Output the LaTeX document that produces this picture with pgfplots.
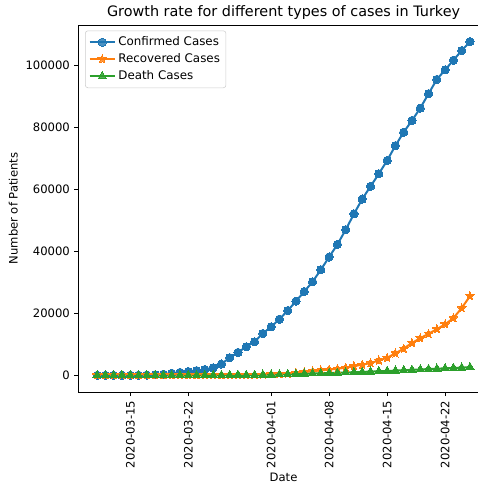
\documentclass[border=0pt]{standalone}
\usepackage{fontspec}
\setmainfont{DejaVu Sans}
\usepackage{pgfplots}
\usepackage{pgfplotstable}
\pgfplotsset{compat=1.18}
\definecolor{c0}{HTML}{1F77B4}
\definecolor{c1}{HTML}{FF7F0E}
\definecolor{c2}{HTML}{2CA02C}

% filled five-pointed star, like matplotlib's '*'
\pgfdeclareplotmark{fstar}{%
  \pgfpathmoveto{\pgfpointpolar{90}{\pgfplotmarksize}}%
  \pgfpathlineto{\pgfpointpolar{126}{0.45\pgfplotmarksize}}%
  \pgfpathlineto{\pgfpointpolar{162}{\pgfplotmarksize}}%
  \pgfpathlineto{\pgfpointpolar{198}{0.45\pgfplotmarksize}}%
  \pgfpathlineto{\pgfpointpolar{234}{\pgfplotmarksize}}%
  \pgfpathlineto{\pgfpointpolar{270}{0.45\pgfplotmarksize}}%
  \pgfpathlineto{\pgfpointpolar{306}{\pgfplotmarksize}}%
  \pgfpathlineto{\pgfpointpolar{342}{0.45\pgfplotmarksize}}%
  \pgfpathlineto{\pgfpointpolar{18}{\pgfplotmarksize}}%
  \pgfpathlineto{\pgfpointpolar{54}{0.45\pgfplotmarksize}}%
  \pgfpathclose\pgfusepathqfillstroke}

% day index 0 = 2020-03-11
\pgfplotstableread{
x conf rec death
0 1 0 0
1 1 0 0
2 5 0 0
3 6 0 0
4 18 0 0
5 47 0 0
6 98 0 1
7 191 0 2
8 359 0 3
9 670 0 4
10 947 0 9
11 1236 0 21
12 1529 0 30
13 1872 26 37
14 2433 26 44
15 3629 42 59
16 5698 70 75
17 7402 105 92
18 9217 105 108
19 10827 162 131
20 13531 243 168
21 15679 333 214
22 18135 415 277
23 20921 484 356
24 23934 786 425
25 27069 1042 501
26 30217 1326 574
27 34109 1582 649
28 38226 1846 725
29 42282 2142 812
30 47029 2423 908
31 52167 2965 1006
32 56956 3446 1101
33 61049 3957 1198
34 65111 4799 1296
35 69392 5674 1403
36 74193 7089 1518
37 78546 8631 1643
38 82329 10453 1769
39 86306 11976 1890
40 90980 13430 2017
41 95591 14918 2140
42 98674 16477 2259
43 101790 18491 2376
44 104912 21737 2491
45 107773 25582 2600
}\turkey

\begin{document}
\begin{tikzpicture}
\begin{axis}[
  at={(0,0)}, anchor=south west,
  scale only axis,
  width=307.6pt, height=275.25pt,
  xmin=-2.25, xmax=47.25,
  ymin=-5389, ymax=113162,
  xtick={4,11,21,28,35,42},
  xticklabels={2020-03-15,2020-03-22,2020-04-01,2020-04-08,2020-04-15,2020-04-22},
  x tick label style={rotate=90, anchor=east},
  ytick={0,20000,40000,60000,80000,100000},
  scaled y ticks=false,
  y tick label style={/pgf/number format/fixed, /pgf/number format/precision=0,
    /pgf/number format/1000 sep={}, /pgf/number format/assume math mode=true},
  tick align=outside,
  xtick pos=left, ytick pos=left,
  major tick length=3pt,
  tick style={black, line width=0.6pt},
  axis line style={line width=0.6pt},
  tick label style={font=\fontsize{8.7}{10}\selectfont},
  label style={font=\fontsize{8.7}{10}\selectfont},
  xlabel style={yshift=3pt},
  ylabel style={yshift=-1pt},
  title style={font=\fontsize{10.8}{12}\selectfont, yshift=-5.5pt},
  title={Growth rate for different types of cases in Turkey},
  xlabel={Date},
  ylabel={Number of Patients},
  legend cell align=left,
  legend style={at={(0.016,0.985)}, anchor=north west,
    draw=black!20, rounded corners=2pt, fill=white, fill opacity=0.8, text opacity=1,
    font=\fontsize{8.9}{12.5}\selectfont, row sep=0.5pt, inner sep=2.5pt},
  legend image code/.code={
    \draw[mark repeat=2, mark phase=2] plot coordinates {(0cm,0cm)(0.33cm,0cm)(0.66cm,0cm)};},
]
\addplot[c0, line width=1.5pt, mark=*, mark size=3.1pt,
  mark options={solid, fill=c0, draw=c0, line width=0pt}] table[x=x, y=conf] {\turkey};
\addplot[c1, line width=1.5pt, mark=fstar, mark size=3.4pt,
  mark options={solid, fill=c1, draw=c1, line width=0pt}] table[x=x, y=rec] {\turkey};
\addplot[c2, line width=1.5pt, mark=triangle*, mark size=3.6pt,
  mark options={solid, fill=c2, draw=c2, line width=0pt}] table[x=x, y=death] {\turkey};
\legend{Confirmed Cases, Recovered Cases, Death Cases}
\end{axis}
\pgfresetboundingbox
\path (-58.875pt,-68.25pt) rectangle (299.625pt,294pt);
\end{tikzpicture}
\end{document}
